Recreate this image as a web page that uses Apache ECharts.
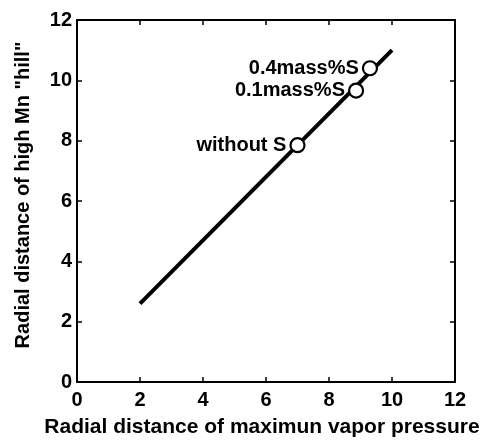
<!DOCTYPE html>
<html>
<head>
<meta charset="utf-8">
<script src="https://cdn.jsdelivr.net/npm/echarts@6/dist/echarts.min.js"></script>
<style>
html,body{margin:0;padding:0;background:#fff;}
#chart{width:483px;height:443px;}
</style>
</head>
<body>
<div id="chart"></div>
<script>
// Fitted line endpoints (x: radial distance of max vapor pressure, y: radial distance of high Mn "hill")
const lineX = [2, 10];
const lineY = [2.6, 11];
// Measured points
const pointLabels = ["without S", "0.1mass%S", "0.4mass%S"];
const pointX = [7.0, 8.86, 9.3];
const pointY = [7.85, 9.66, 10.4];
// Axis ticks
const xTicks = [0, 2, 4, 6, 8, 10, 12];
const yTicks = [0, 2, 4, 6, 8, 10, 12];
const xTitle = "Radial distance of maximun vapor pressure";
const yTitle = 'Radial distance of high Mn "hill"';

const FONT = '"Liberation Sans", Arial, sans-serif';
const chart = echarts.init(document.getElementById('chart'), null, {renderer: 'canvas'});

const axisCommon = {
  type: 'value', min: 0, max: 12, interval: 2,
  axisLine: {show: true, onZero: false, lineStyle: {color: '#000', width: 2}},
  axisTick: {show: true, inside: true, length: 5, lineStyle: {color: '#000', width: 1.5}},
  splitLine: {show: false}
};

chart.setOption({
  animation: false,
  backgroundColor: '#fff',
  grid: {left: 77, right: 28, top: 20, bottom: 61, containLabel: false},
  xAxis: [
    Object.assign({}, axisCommon, {
      position: 'bottom',
      name: xTitle, nameLocation: 'middle', nameGap: 35,
      nameTextStyle: {fontFamily: FONT, fontSize: 21, fontWeight: 'bold', color: '#000', padding: [0, 8, 0, 0]},
      axisLabel: {fontFamily: FONT, fontSize: 20, fontWeight: 'bold', color: '#000', margin: 8,
        formatter: v => xTicks.includes(v) ? String(v) : ''}
    }),
    Object.assign({}, axisCommon, {position: 'top', axisLabel: {show: false}})
  ],
  yAxis: [
    Object.assign({}, axisCommon, {
      position: 'left',
      name: yTitle, nameLocation: 'middle', nameGap: 44,
      nameTextStyle: {fontFamily: FONT, fontSize: 20, fontWeight: 'bold', color: '#000', padding: [0, 0, 0, 12]},
      axisLabel: {fontFamily: FONT, fontSize: 20, fontWeight: 'bold', color: '#000', margin: 5,
        formatter: v => yTicks.includes(v) ? String(v) : ''}
    }),
    Object.assign({}, axisCommon, {position: 'right', axisLabel: {show: false}})
  ],
  series: [
    {
      type: 'line',
      data: lineX.map((x, i) => [x, lineY[i]]),
      showSymbol: false,
      symbol: 'none',
      lineStyle: {color: '#000', width: 4},
      z: 2
    },
    {
      type: 'scatter',
      data: pointX.map((x, i) => ({value: [x, pointY[i]], name: pointLabels[i]})),
      symbol: 'circle',
      symbolSize: 14,
      itemStyle: {color: '#fff', borderColor: '#000', borderWidth: 2.2, opacity: 1},
      label: {show: true, position: 'left', distance: 3, formatter: p => p.name,
        fontFamily: FONT, fontSize: 20, fontWeight: 'bold', color: '#000'},
      z: 3
    }
  ]
});
</script>
</body>
</html>
